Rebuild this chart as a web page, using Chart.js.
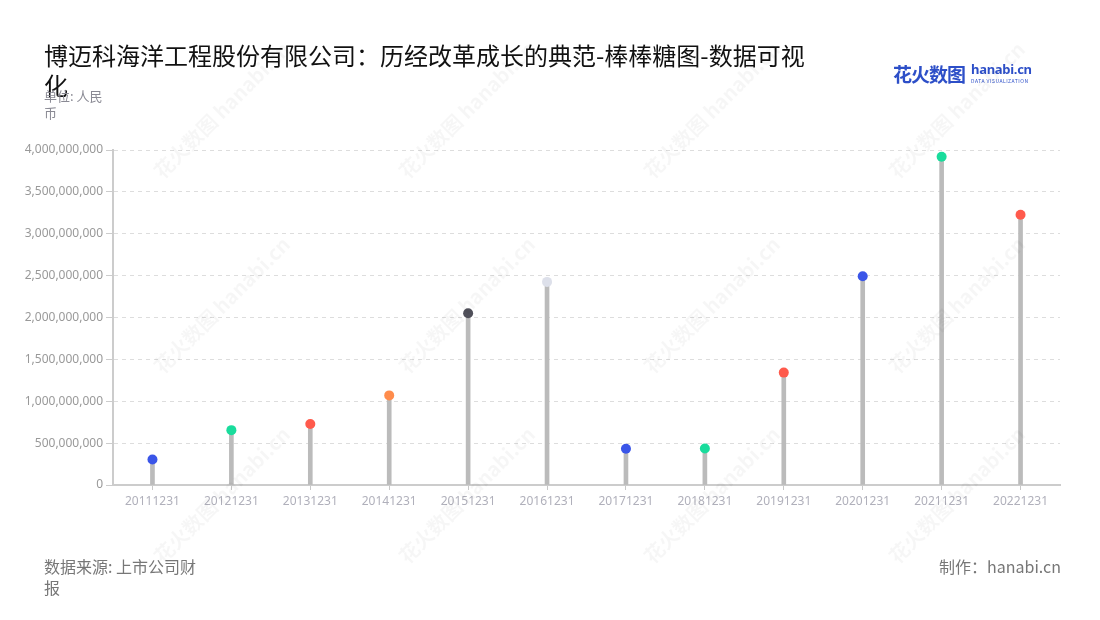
<!DOCTYPE html>
<html>
<head>
<meta charset="utf-8">
<title>棒棒糖图</title>
<script src="https://cdn.jsdelivr.net/npm/chart.js@4"></script>
<style>
  html, body { margin: 0; padding: 0; background: #fff; }
  body { width: 1100px; height: 620px; position: relative; overflow: hidden;
         font-family: "Noto Sans CJK SC", "Noto Sans", sans-serif; }
  #chart { position: absolute; left: 0; top: 0; }
  .title { position: absolute; left: 44px; top: 40px; width: 770px; font-size: 24px;
           line-height: 30px; color: #111; }
  .unit { position: absolute; left: 44px; top: 87px; width: 68px; font-size: 13px;
          line-height: 17px; color: #8a8a94; }
  .source { position: absolute; left: 44px; top: 556px; width: 160px; font-size: 16px;
            line-height: 21px; color: #777; }
  .maker { position: absolute; right: 39px; top: 556px; font-size: 16px; line-height: 21px; color: #777; }
  .logo { position: absolute; left: 893px; top: 60px; color: #2d4fc8; white-space: nowrap; }
  .logo .cn { font-size: 19px; font-weight: bold; letter-spacing: -1px; vertical-align: top; }
  .logo .en { display: inline-block; margin-left: 6px; vertical-align: top; line-height: 1; }
  .logo .en b { font-family: "Noto Sans", sans-serif; font-size: 13px; display: block; margin-top: 3px; letter-spacing: -0.3px; }
  .logo .en i { font-style: normal; font-size: 5px; display: block; letter-spacing: 0.5px; margin-top: 2px; }
  .wm { position: absolute; color: rgba(0,0,0,0.035); font-size: 20px; font-weight: bold;
        transform: rotate(-45deg); white-space: nowrap; pointer-events: none; }
</style>
</head>
<body>
<canvas id="chart" width="1100" height="620"></canvas>
<div class="title">博迈科海洋工程股份有限公司：历经改革成长的典范-棒棒糖图-数据可视化</div>
<div class="unit">单位: 人民币</div>
<div class="logo"><span class="cn">花火数图</span><span class="en"><b>hanabi.cn</b><i>DATA VISUALIZATION</i></span></div>
<div class="source">数据来源: 上市公司财报</div>
<div class="maker">制作：hanabi.cn</div>
<div id="wms"></div>
<script>
// 报告期
const periods = ['20111231', '20121231', '20131231', '20141231', '20151231', '20161231',
                 '20171231', '20181231', '20191231', '20201231', '20211231', '20221231'];
// 数值（人民币）
const values = [305000000, 655000000, 728000000, 1070000000, 2051000000, 2425000000,
                433000000, 436000000, 1342000000, 2493000000, 3920000000, 3226000000];
// 每个点的颜色
const dotColors = ['#3a55e8', '#19dc9c', '#ff5a4c', '#ff8c4c', '#50505a', '#dde0ea',
                   '#3a55e8', '#19dc9c', '#ff5a4c', '#3a55e8', '#19dc9c', '#ff5a4c'];
const yMax = 4000000000;
const yStep = 500000000;

// faint watermarks
const wms = document.getElementById('wms');
[[130, 95], [375, 95], [620, 95], [865, 95],
 [130, 290], [375, 290], [620, 290], [865, 290],
 [130, 480], [375, 480], [620, 480], [865, 480]].forEach(([x, y]) => {
  const d = document.createElement('div');
  d.className = 'wm';
  d.style.left = x + 'px';
  d.style.top = y + 'px';
  d.textContent = '花火数图 hanabi.cn';
  wms.appendChild(d);
});

new Chart(document.getElementById('chart'), {
  data: {
    labels: periods,
    datasets: [
      {
        type: 'line',
        data: values,
        showLine: false,
        pointRadius: 5,
        pointHoverRadius: 6,
        pointBorderWidth: 0,
        pointBackgroundColor: dotColors,
        order: 1
      },
      {
        type: 'bar',
        data: values,
        backgroundColor: '#bbbbbb',
        barThickness: 4,
        order: 2
      }
    ]
  },
  options: {
    responsive: false,
    animation: false,
    layout: { padding: { top: 150, right: 40, bottom: 95, left: 20 } },
    plugins: { legend: { display: false }, tooltip: { enabled: true } },
    scales: {
      x: {
        offset: true,
        grid: { offset: false, drawOnChartArea: false, drawTicks: true, tickLength: 5, color: '#c8c8c8' },
        border: { color: '#cccccc', width: 2 },
        ticks: { color: '#b0b0bb', font: { family: 'Noto Sans', size: 12 }, padding: 4, maxRotation: 0 },
        afterFit: s => { s.height = 40; }
      },
      y: {
        min: 0,
        max: yMax,
        grid: { color: '#dddddd', tickColor: '#cccccc', tickLength: 7 },
        border: { color: '#cccccc', width: 2, dash: [4, 4] },
        ticks: {
          stepSize: yStep,
          color: '#999999',
          font: { family: 'Noto Sans', size: 12 },
          padding: 3,
          callback: v => v.toLocaleString('en-US')
        },
        afterFit: s => { s.width = 93; }
      }
    }
  }
});
</script>
</body>
</html>
